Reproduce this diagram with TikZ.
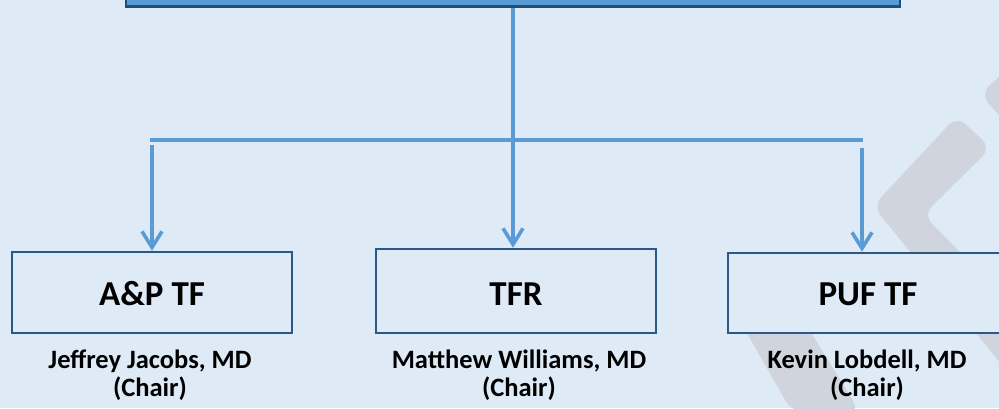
\documentclass[tikz,border=0pt]{standalone}
\usepackage{fontspec}
\setmainfont{Carlito}
\usetikzlibrary{arrows.meta}
\definecolor{bgblue}{HTML}{DEEAF6}
\definecolor{linkblue}{HTML}{5B9BD5}
\definecolor{topfill}{HTML}{5B9BD5}
\definecolor{topedge}{HTML}{1F4E79}
\definecolor{boxedge}{HTML}{2C5887}
\definecolor{wmark}{HTML}{D0D5DD}
\tikzset{
  taskbox/.style={draw=boxedge, fill=bgblue, line width=2.5pt, inner sep=0pt, minimum width=280pt},
  titletext/.style={font=\fontsize{35}{40}\selectfont\bfseries, anchor=base, inner sep=0pt},
  nametext/.style={font=\fontsize{26.5}{28}\selectfont\bfseries, anchor=base, inner sep=0pt},
  link/.style={draw=linkblue, line width=3.8pt},
  linkarrow/.style={draw=linkblue, line width=3.6pt, -{Straight Barb[length=16pt,width=20pt]}},
  wm/.style={fill=wmark, draw=none, rounded corners=12pt}
}
\begin{document}
\begin{tikzpicture}[x=1pt,y=-1pt]
\useasboundingbox (0,0) rectangle (999,408);
\fill[bgblue] (0,0) rectangle (999,408);
% watermark
\begin{scope}
\clip (0,0) rectangle (999,408);
\fill[wm] (873,206) -- (957,116) -- (991,148) -- (923,215) -- (1120,412) -- (1040,412) -- cycle;
\fill[wm] (1040,40) -- (980,94) -- (1040,160) -- cycle;
\fill[wm] (728,300) -- (791,300) -- (860,412) -- (792,412) -- cycle;
\end{scope}
% top box
\node[draw=topedge, fill=topfill, line width=2.5pt, minimum width=774pt, minimum height=60pt, inner sep=0pt] (top) at (513,-23.5) {};
% lower boxes
\node[taskbox, minimum height=81pt] (ap) at (152,292.5) {};
\node[taskbox, minimum height=84pt] (tfr) at (516,291) {};
\node[taskbox, minimum height=80pt] (puf) at (868,293) {};
% titles
\node[titletext] (apt) at (152,305) {A\&P TF};
\node[titletext] (tfrt) at (516,305) {TFR};
\node[titletext] (puft) at (868,305) {PUF TF};
% names
\node[nametext] (apn1) at (150,368) {Jeffrey Jacobs, MD};
\node[nametext] (apn2) at (150,396) {(Chair)};
\node[nametext] (tfrn1) at (519,368) {Matthew Williams, MD};
\node[nametext] (tfrn2) at (519,396) {(Chair)};
\node[nametext] (pufn1) at (867,368) {Kevin Lobdell, MD};
\node[nametext] (pufn2) at (867,396) {(Chair)};
% connectors
\coordinate (hl) at (150,140);
\coordinate (hr) at (863,140);
\coordinate (ls) at (152,145);
\coordinate (rs) at (862,148);
\draw[link] (hl) -- (hr);
\draw[linkarrow] (top.south) -- (top.south |- tfr.north);
\draw[linkarrow] (ls) -- (ls |- ap.north);
\draw[linkarrow] (rs) -- (rs |- puf.north);
\end{tikzpicture}
\end{document}
